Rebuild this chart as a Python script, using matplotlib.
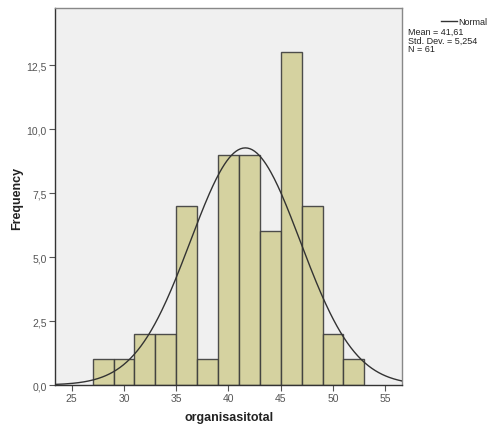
import numpy as np
import matplotlib.pyplot as plt

plt.rcParams['font.family'] = ['Liberation Sans', 'DejaVu Sans']

# data: bin edges and counts
bin_edges = [27, 29, 31, 33, 35, 37, 39, 41, 43, 45, 47, 49, 51, 53]
counts = [1, 1, 2, 2, 7, 1, 9, 9, 6, 13, 7, 2, 1]
mean = 41.61
std = 5.254
n = 61
x_ticks = [25, 30, 35, 40, 45, 50, 55]
y_ticks = [0, 2.5, 5.0, 7.5, 10.0, 12.5]

fig = plt.figure(figsize=(4.88, 4.27), dpi=100)
ax = fig.add_axes([0.1127, 0.096, 0.711, 0.883])
ax.set_facecolor('#f0f0f0')

lefts = bin_edges[:-1]
widths = np.diff(bin_edges)
ax.bar(lefts, counts, width=widths, align='edge', color='#d3cf98',
       edgecolor='#3c3c3c', linewidth=1.0, alpha=0.9, zorder=2)

# normal curve scaled to counts
xs = np.linspace(23.4, 56.6, 300)
bw = bin_edges[1] - bin_edges[0]
ys = n * bw / (std * np.sqrt(2 * np.pi)) * np.exp(-0.5 * ((xs - mean) / std) ** 2)
ax.plot(xs, ys, color='#333333', linewidth=1.0, zorder=3)

ax.set_xlim(23.4, 56.6)
ax.set_ylim(0, 14.73)
ax.set_xticks(x_ticks)
ax.set_xticklabels([str(v) for v in x_ticks])
ax.set_yticks(y_ticks)
ax.set_yticklabels([f'{v:.1f}'.replace('.', ',') for v in y_ticks])
ax.tick_params(labelsize=7.5, colors='#555555', length=4, width=0.8, pad=2)
for s in ax.spines.values():
    s.set_color('#888888')
    s.set_linewidth(1.0)
ax.spines['left'].set_color('#333333')
ax.spines['bottom'].set_color('#333333')

# axis titles
fig.text(0.469, 0.021, 'organisasitotal', fontsize=9, fontweight='bold',
         color='#222222', ha='center', va='center')
fig.text(0.035, 0.536, 'Frequency', fontsize=9, fontweight='bold',
         color='#222222', ha='center', va='center', rotation=90)

# legend / stats box
fig.add_artist(plt.Line2D([0.904, 0.936], [0.948, 0.948], color='#333333', linewidth=1.0))
fig.text(0.998, 0.948, 'Normal', fontsize=6.5, va='center', ha='right', color='#222222')
fig.text(0.836, 0.935, f'Mean = 41,61\nStd. Dev. = 5,254\nN = {n}', fontsize=6.5,
         va='top', ha='left', color='#222222', linespacing=0.95)

fig.savefig('out.png', dpi=100)
